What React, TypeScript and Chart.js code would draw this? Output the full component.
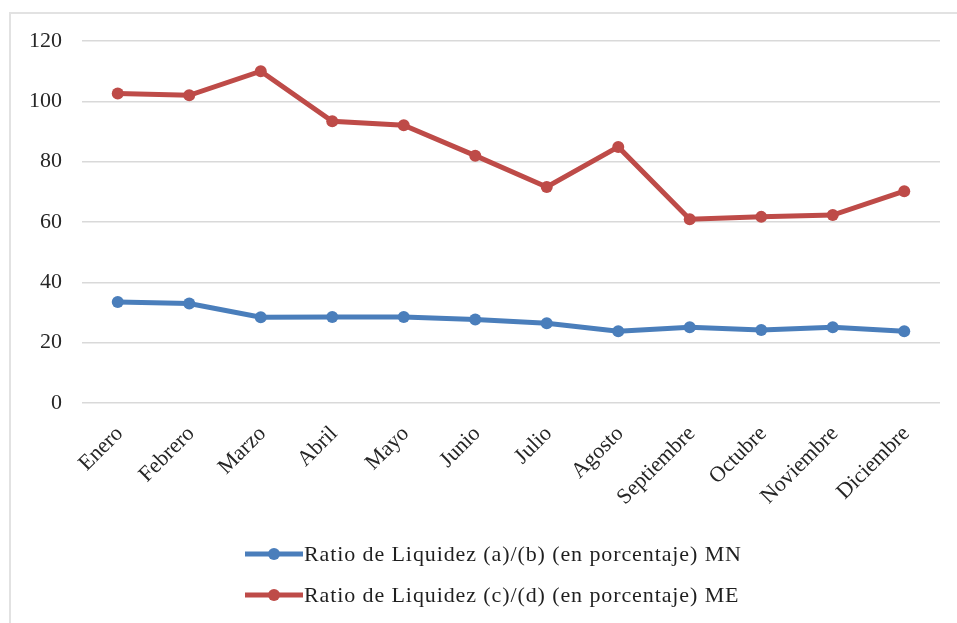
import React, { useEffect, useRef } from 'react';
import { Chart, registerables } from 'chart.js';

Chart.register(...registerables);

const months = ['Enero', 'Febrero', 'Marzo', 'Abril', 'Mayo', 'Junio', 'Julio', 'Agosto', 'Septiembre', 'Octubre', 'Noviembre', 'Diciembre'];
const ratioMN = [33.5, 33.0, 28.4, 28.5, 28.5, 27.7, 26.4, 23.8, 25.1, 24.2, 25.1, 23.8];
const ratioME = [102.6, 102.0, 110.0, 93.4, 92.1, 82.0, 71.6, 84.9, 60.9, 61.7, 62.3, 70.2];
const seriesLabels = [
  'Ratio de Liquidez (a)/(b) (en porcentaje) MN',
  'Ratio de Liquidez (c)/(d) (en porcentaje) ME',
];
const yMin = 0;
const yMax = 120;
const yStep = 20;

const BLUE = '#4A7EBB';
const RED = '#BE4B48';
const FONT = "'Liberation Serif', 'Times New Roman', serif";

const legendPlugin = {
  id: 'customLegend',
  afterDraw(chart: any) {
    const ctx = chart.ctx;
    const rows = [chart.height - 69, chart.height - 28];
    ctx.save();
    chart.data.datasets.forEach((ds: any, i: number) => {
      const y = rows[i];
      const x0 = 245;
      ctx.strokeStyle = ds.borderColor;
      ctx.lineWidth = 5;
      ctx.lineCap = 'butt';
      ctx.beginPath();
      ctx.moveTo(x0, y);
      ctx.lineTo(x0 + 58, y);
      ctx.stroke();
      ctx.fillStyle = ds.borderColor;
      ctx.beginPath();
      ctx.arc(x0 + 29, y, 6, 0, Math.PI * 2);
      ctx.fill();
      ctx.fillStyle = '#1f1f1f';
      ctx.font = `22px ${FONT}`;
      (ctx as any).letterSpacing = '0.9px';
      ctx.textBaseline = 'middle';
      ctx.textAlign = 'left';
      ctx.fillText(ds.label, x0 + 59, y + 1);
    });
    ctx.restore();
  },
};

export default function App() {
  const ref = useRef<HTMLCanvasElement>(null);
  useEffect(() => {
    document.body.style.overflow = 'hidden';
    const chart = new Chart(ref.current!, {
      type: 'line',
      data: {
        labels: months,
        datasets: [
          {
            label: seriesLabels[0],
            data: ratioMN,
            borderColor: BLUE,
            backgroundColor: BLUE,
            borderWidth: 5,
            pointRadius: 6,
            pointBackgroundColor: BLUE,
            pointBorderWidth: 0,
            tension: 0,
          },
          {
            label: seriesLabels[1],
            data: ratioME,
            borderColor: RED,
            backgroundColor: RED,
            borderWidth: 5,
            pointRadius: 6,
            pointBackgroundColor: RED,
            pointBorderWidth: 0,
            tension: 0,
          },
        ],
      },
      options: {
        animation: false,
        responsive: false,
        maintainAspectRatio: false,
        layout: { padding: { left: 0, right: 17, top: 41, bottom: 110 } },
        plugins: {
          legend: { display: false },
          tooltip: { enabled: false },
        },
        scales: {
          x: {
            offset: true,
            grid: { display: false, drawTicks: false },
            border: { display: false },
            ticks: {
              minRotation: 45,
              maxRotation: 45,
              padding: 18,
              labelOffset: 2,
              color: '#262626',
              font: { family: FONT, size: 22 },
            },
            afterFit: (scale: any) => {
              scale.height = 110;
            },
          },
          y: {
            min: yMin,
            max: yMax,
            grid: { color: '#d9d9d9', lineWidth: 1.5, drawTicks: false },
            border: { display: false },
            ticks: {
              stepSize: yStep,
              padding: 20,
              color: '#262626',
              font: { family: FONT, size: 22 },
            },
            afterFit: (scale: any) => {
              scale.width = 82;
            },
          },
        },
      },
      plugins: [legendPlugin],
    });
    return () => chart.destroy();
  }, []);
  return (
    <>
      <div
        style={{
          position: 'fixed',
          left: 9,
          top: 12,
          width: 1100,
          height: 800,
          border: '2px solid #e2e2e2',
          boxSizing: 'border-box',
        }}
      />
      <canvas
        ref={ref}
        width={957}
        height={623}
        style={{ position: 'fixed', left: 0, top: 0, width: 957, height: 623 }}
      />
    </>
  );
}
